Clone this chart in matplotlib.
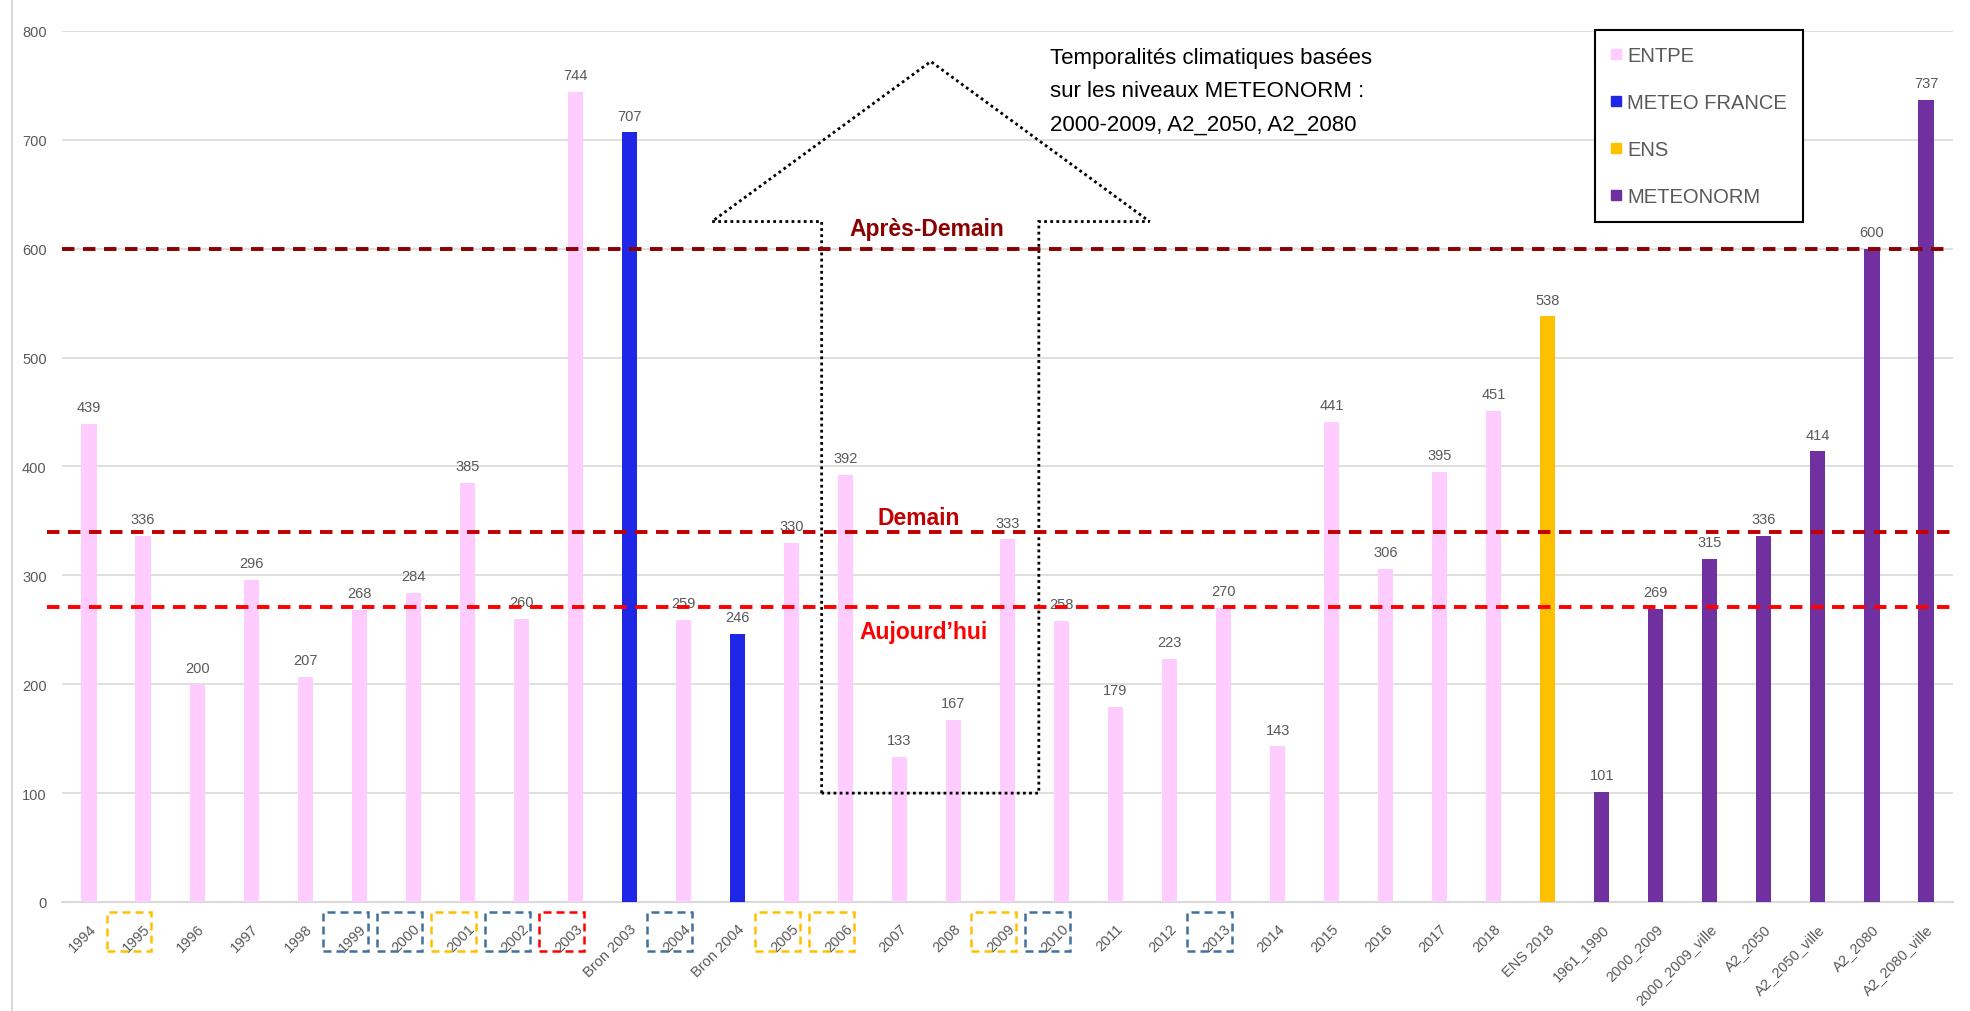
import matplotlib
matplotlib.use('Agg')
import matplotlib.pyplot as plt
from matplotlib.patches import Rectangle, Polygon
from matplotlib.lines import Line2D
import matplotlib.transforms as mtransforms

plt.rcParams['font.family'] = ['Liberation Sans', 'DejaVu Sans']

categories = ['1994', '1995', '1996', '1997', '1998', '1999', '2000', '2001', '2002', '2003',
              'Bron 2003', '2004', 'Bron 2004', '2005', '2006', '2007', '2008', '2009', '2010',
              '2011', '2012', '2013', '2014', '2015', '2016', '2017', '2018', 'ENS 2018',
              '1961_1990', '2000_2009', '2000_2009_ville', 'A2_2050', 'A2_2050_ville',
              'A2_2080', 'A2_2080_ville']
values = [439, 336, 200, 296, 207, 268, 284, 385, 260, 744,
          707, 259, 246, 330, 392, 133, 167, 333, 258,
          179, 223, 270, 143, 441, 306, 395, 451, 538,
          101, 269, 315, 336, 414, 600, 737]
sources = (['ENTPE'] * 10 + ['METEO FRANCE', 'ENTPE', 'METEO FRANCE'] + ['ENTPE'] * 14
           + ['ENS'] + ['METEONORM'] * 7)
source_names = ['ENTPE', 'METEO FRANCE', 'ENS', 'METEONORM']
source_colors = {'ENTPE': '#FFCCFF', 'METEO FRANCE': '#2026E6', 'ENS': '#FFC000',
                 'METEONORM': '#7030A0'}

threshold_values = [600, 340, 271]
threshold_names = ['Après-Demain', 'Demain', 'Aujourd’hui']
threshold_colors = ['#8B0000', '#C00000', '#FF0000']

boxed_labels = {1: 'orange', 5: 'blue', 6: 'blue', 7: 'orange', 8: 'blue', 9: 'red',
                11: 'blue', 13: 'orange', 14: 'orange', 17: 'orange', 18: 'blue', 21: 'blue'}
box_colors = {'orange': '#FFC000', 'blue': '#41719C', 'red': '#FF0000'}

note_text = "Temporalités climatiques basées\nsur les niveaux METEONORM :\n2000-2009, A2_2050, A2_2080"

W, H = 1970, 1012
fig = plt.figure(figsize=(W / 100, H / 100), dpi=100)
ax = fig.add_axes([62 / W, 109 / H, 1891 / W, 871 / H])

x = list(range(len(categories)))
ax.bar(x, values, width=0.28, color=[source_colors[s] for s in sources], zorder=3)
ax.set_xlim(-0.5, len(categories) - 0.5)
ax.set_ylim(0, 800)
ax.set_yticks(range(0, 801, 100))
ax.grid(axis='y', color='#D9D9D9', lw=1.2, zorder=0)
ax.set_axisbelow(True)
for s in ['top', 'right', 'left']:
    ax.spines[s].set_visible(False)
ax.spines['bottom'].set_color('#D9D9D9')
ax.spines['bottom'].set_linewidth(1.5)
ax.tick_params(axis='both', length=0, colors='#595959', labelsize=10.5)
ax.tick_params(axis='y', pad=11)
ax.tick_params(axis='x', pad=14)
ax.set_xticks(x)
ax.set_xticklabels(categories, rotation=45, ha='right', rotation_mode='anchor')

for xi, v in zip(x, values):
    ax.annotate(str(v), (xi, v), xytext=(0, 7), textcoords='offset points',
                ha='center', va='bottom', fontsize=10.5, color='#595959', zorder=5)

# threshold lines
starts = [-0.5, -0.77, -0.77]
for t, c, st in zip(threshold_values, threshold_colors, starts):
    ax.plot([st, 34.47], [t, t], color=c, lw=2.8, dashes=(3.2, 2.2), clip_on=False, zorder=6)

label_pos = [(15.51, 619), (15.36, 353), (15.45, 248)]
for (lx, ly), name, c in zip(label_pos, threshold_names, threshold_colors):
    ax.text(lx, ly, name, color=c, fontsize=16.5, fontweight='bold', ha='center', va='center',
            zorder=7)

# big dotted arrow
arrow = Polygon([(13.56, 100), (13.56, 625), (11.53, 625), (15.58, 772), (19.63, 625),
                 (17.58, 625), (17.58, 100)], closed=True, fill=False, ec='black', lw=2,
                ls=(0, (1, 1.2)), zorder=4)
ax.add_patch(arrow)

# dashed boxes around tick labels
trans = mtransforms.blended_transform_factory(ax.transData, ax.transAxes)
for i, cname in boxed_labels.items():
    ax.add_patch(Rectangle((i - 0.26 - 0.415, -0.0563), 0.83, 0.0448, transform=trans,
                           fill=False, ec=box_colors[cname], lw=1.8, ls=(0, (3.2, 2)),
                           clip_on=False))

handles = [Line2D([], [], marker='s', ls='none', color=source_colors[n], markersize=7)
           for n in source_names]
leg = ax.legend(handles, source_names, loc='upper left', bbox_to_anchor=(0.8107, 1.001),
                borderaxespad=0, frameon=True, fancybox=False, edgecolor='black',
                fontsize=14.5, labelcolor='#595959', handlelength=0.5, handletextpad=0.3,
                labelspacing=1.38, borderpad=0.8, framealpha=1)
leg.get_frame().set_linewidth(1.5)
leg.set_zorder(8)

fig.text(1050 / W, 1 - 48 / H, note_text, fontsize=16, va='top', ha='left',
         linespacing=1.78, color='black')

fig.add_artist(Line2D([12 / W, 12 / W], [0, 1], color='#D9D9D9', lw=1.5))

fig.savefig('out.png', dpi=100)
